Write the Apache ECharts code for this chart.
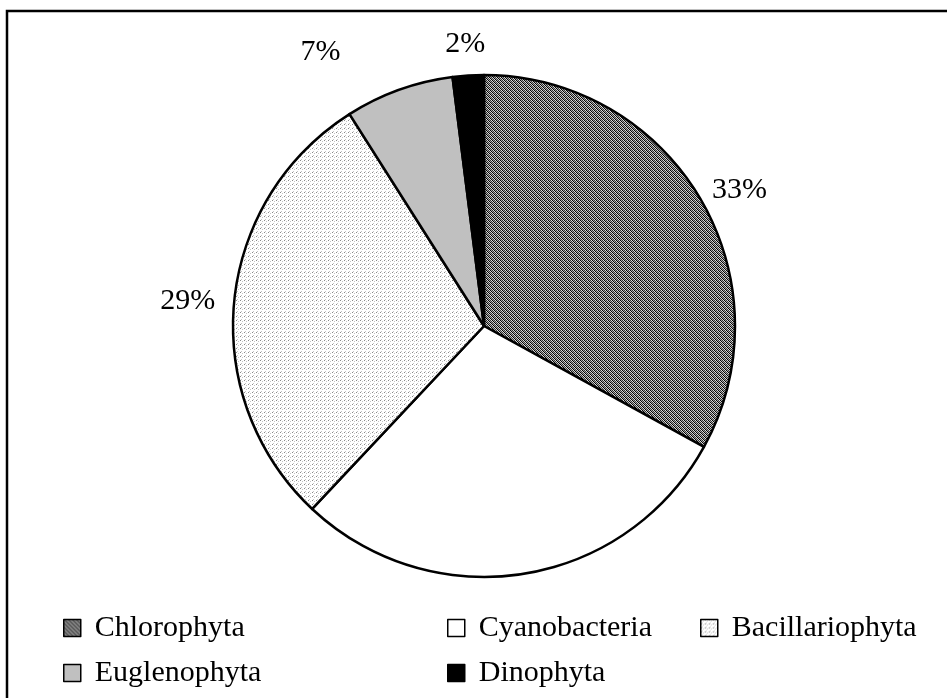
<!DOCTYPE html>
<html>
<head>
<meta charset="utf-8">
<title>Phytoplankton composition</title>
<script src="https://cdn.jsdelivr.net/npm/echarts@6/dist/echarts.min.js"></script>
<style>
  html, body { margin: 0; padding: 0; background: #fff; }
  #chart { width: 947px; height: 698px; }
</style>
</head>
<body>
<div id="chart"></div>
<script>
// Phytoplankton groups and their share of the community (%)
const groups = ['Chlorophyta', 'Cyanobacteria', 'Bacillariophyta', 'Euglenophyta', 'Dinophyta'];
const shares = [33, 29, 29, 7, 2];
// Which slices carry a percentage label
const showLabel = [true, false, true, true, true];
// Legend columns (groups listed per column, top to bottom)
const legendColumns = [
  ['Chlorophyta', 'Euglenophyta'],
  ['Cyanobacteria', 'Dinophyta'],
  ['Bacillariophyta']
];

const FONT = "'Liberation Serif', 'Times New Roman', serif";

// Build a small repeating pixel tile for hatched fills
function makeTile(rows) {
  const c = document.createElement('canvas');
  c.width = rows[0].length;
  c.height = rows.length;
  const ctx = c.getContext('2d');
  rows.forEach((row, y) => {
    row.forEach((col, x) => {
      ctx.fillStyle = col;
      ctx.fillRect(x, y, 1, 1);
    });
  });
  return { image: c, repeat: 'repeat' };
}

const K = '#000000', D = '#333333', G = '#8a8a8a', M = '#a8a8a8', L = '#c4c4c4', P = '#dddddd', W = '#ffffff';
// Dense diagonal checker (dark grey)
const hatchDark = makeTile([
  [K, M, D, P],
  [P, K, M, D],
  [D, P, K, M],
  [M, D, P, K]
]);
// Sparse dotted fill (light grey)
const dotLight = makeTile([
  [G, W, W, W],
  [W, W, L, W],
  [W, W, W, W],
  [W, L, W, W]
]);

const fills = [hatchDark, '#ffffff', dotLight, '#c0c0c0', '#000000'];
// Leader distances for each label (hidden leader lines)
const leadLen = [8, 0, 14, 40, 31];
const leadLen2 = [0, 0, 0, 40, 0];
// Small nudges so neighbouring labels sit clear of each other
const labelNudge = [[0, -4], [0, 0], [0, 0], [0, 0], [24, 0]];

const pieData = groups.map((name, i) => ({
  name: name,
  value: shares[i],
  itemStyle: { color: fills[i] },
  label: { show: showLabel[i] },
  labelLine: { show: false, length: leadLen[i], length2: leadLen2[i] }
}));

const legends = legendColumns.map((items, k) => ({
  orient: 'vertical',
  data: items,
  left: [58, 442, 695][k],
  top: 608,
  padding: 5,
  itemWidth: 17,
  itemHeight: 17,
  itemGap: 15,
  icon: 'rect',
  itemStyle: { borderColor: '#000', borderWidth: 1.5 },
  textStyle: {
    fontFamily: FONT,
    fontSize: 30,
    lineHeight: 30,
    color: '#000',
    padding: [0, 0, 0, 9]
  },
  selectedMode: false
}));

const chart = echarts.init(document.getElementById('chart'), null, { renderer: 'canvas' });
chart.setOption({
  backgroundColor: '#ffffff',
  animation: false,
  legend: legends,
  graphic: [{
    type: 'rect',
    shape: { x: 7, y: 11, width: 1000, height: 1000 },
    style: { fill: 'none', stroke: '#000', lineWidth: 2.5 },
    silent: true,
    z: 100
  }],
  series: [{
    type: 'pie',
    center: [484, 326],
    radius: [0, 251],
    startAngle: 90,
    clockwise: true,
    avoidLabelOverlap: false,
    silent: true,
    itemStyle: { borderColor: '#000', borderWidth: 2.5 },
    label: {
      show: true,
      position: 'outside',
      formatter: '{c}%',
      fontFamily: FONT,
      fontSize: 30,
      color: '#000'
    },
    labelLayout: function (params) {
      const n = labelNudge[params.dataIndex] || [0, 0];
      return { dx: n[0], dy: n[1] };
    },
    emphasis: { disabled: true },
    data: pieData
  }]
});
</script>
</body>
</html>
